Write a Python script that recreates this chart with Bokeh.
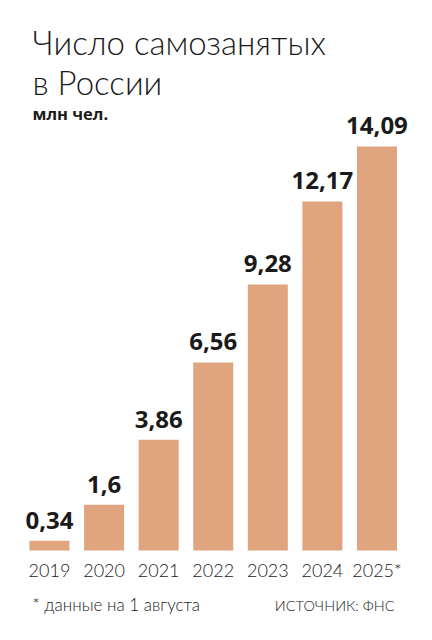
from bokeh.plotting import figure
from bokeh.models import Range1d, Label, ColumnDataSource
from bokeh.core.properties import value
from bokeh.embed import file_html
from bokeh.resources import INLINE

years = ["2019", "2020", "2021", "2022", "2023", "2024", "2025*"]
values = [0.34, 1.6, 3.86, 6.56, 9.28, 12.17, 14.09]
value_labels = ["0,34", "1,6", "3,86", "6,56", "9,28", "12,17", "14,09"]

title_lines = ["Число самозанятых", "в России"]
unit_text = "млн чел."
footnote = "* данные на 1 августа"
source_text = "ИСТОЧНИК: ФНС"

BAR = "#e0a47f"
TXT = "#1a1a1a"
W, H = 416, 624
pitch = 54.58
x0px = 49.0
ppu = 28.67
base_px = 550.0
BL = 0.4  # empirical baseline shift (em)

xs = list(range(len(years)))
src = ColumnDataSource(dict(x=xs, top=values, year=years, lab=value_labels))

p = figure(width=W, height=H, output_backend="svg", toolbar_location=None,
           x_range=Range1d(-x0px / pitch, (W - x0px) / pitch),
           y_range=Range1d(-(H - base_px) / ppu, base_px / ppu),
           min_border=0, min_border_left=0, min_border_right=0,
           min_border_top=0, min_border_bottom=0)
p.axis.visible = False
p.grid.visible = False
p.outline_line_color = None
p.background_fill_color = "white"
p.border_fill_color = "white"

p.vbar(x="x", top="top", bottom=0, width=40 / pitch, source=src,
       fill_color=BAR, line_color=None)

vfs = 24
p.text(x="x", y="top", text="lab", source=src, text_align="center",
       text_baseline="alphabetic", y_offset=-11 - BL * vfs,
       text_font=value("'Liberation Sans Narrow', 'Open Sans'"), text_font_style="bold",
       text_font_size=f"{vfs}px", text_color=TXT)

yfs = 18
p.text(x="x", y=0, text="year", source=src, text_align="center",
       text_baseline="alphabetic", y_offset=27 - BL * yfs,
       text_font=value("Lato Light"), text_font_size=f"{yfs}px", text_color=TXT)

tfs = 33
for i, line in enumerate(title_lines):
    p.add_layout(Label(x=32, y=H - (55 + i * 39.5 - BL * tfs), x_units="screen", y_units="screen",
                       text=line, text_font="Lato Light", text_font_size=f"{tfs}px",
                       text_color=TXT, text_baseline="alphabetic"))

ufs = 16.5
p.add_layout(Label(x=32, y=H - (120 - BL * ufs), x_units="screen", y_units="screen",
                   text=unit_text, text_font="Open Sans", text_font_style="bold",
                   text_font_size=f"{ufs}px", text_color=TXT, text_baseline="alphabetic"))

ffs = 17
p.add_layout(Label(x=32, y=H - (611 - BL * ffs), x_units="screen", y_units="screen",
                   text=footnote, text_font="Lato Light", text_font_size=f"{ffs}px",
                   text_color=TXT, text_baseline="alphabetic"))
sfs = 14.5
p.add_layout(Label(x=394, y=H - (611 - BL * sfs), x_units="screen", y_units="screen",
                   text=source_text, text_font="Lato Light", text_font_size=f"{sfs}px",
                   text_color=TXT, text_baseline="alphabetic", text_align="right"))

open("out.html", "w").write(file_html(p, INLINE))
